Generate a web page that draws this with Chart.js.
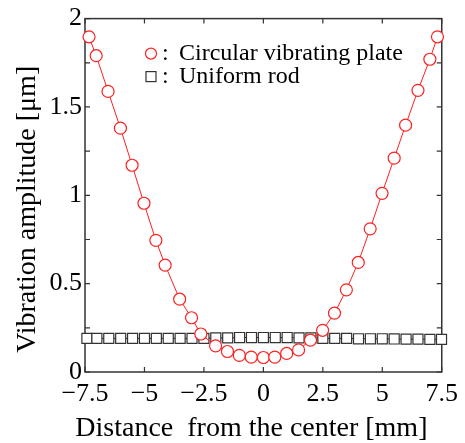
<!DOCTYPE html>
<html>
<head>
<meta charset="utf-8">
<script src="https://cdn.jsdelivr.net/npm/chart.js@4"></script>
<style>
  html, body { margin: 0; padding: 0; background: #fff; }
  #wrap { width: 465px; height: 443px; }
</style>
</head>
<body>
<div id="wrap"><canvas id="c" width="465" height="443"></canvas></div>
<script>
// ---- data ----
const plateX = [-7.33,-7.03,-6.53,-6.01,-5.52,-5.02,-4.52,-4.13,-3.52,-3.02,-2.63,-2.01,-1.51,-1.01,-0.51,0,0.48,0.98,1.48,1.98,2.49,2.99,3.49,3.99,4.49,4.99,5.5,5.98,6.5,7.0,7.32];
const plateY = [1.897,1.79,1.588,1.38,1.17,0.955,0.745,0.605,0.412,0.307,0.215,0.148,0.116,0.094,0.084,0.082,0.084,0.105,0.125,0.18,0.236,0.333,0.465,0.62,0.81,1.011,1.21,1.397,1.594,1.77,1.897];
const rodX = [-7.42,-7.0,-6.5,-6.0,-5.5,-5.0,-4.5,-4.0,-3.5,-3.0,-2.5,-2.0,-1.5,-1.0,-0.5,0,0.5,1.0,1.5,2.0,2.5,3.0,3.5,4.0,4.5,5.0,5.5,6.0,6.5,7.0,7.49];
const rodY = [0.19,0.19,0.19,0.19,0.19,0.19,0.19,0.19,0.19,0.19,0.19,0.193,0.193,0.195,0.195,0.195,0.195,0.195,0.193,0.193,0.19,0.19,0.19,0.188,0.188,0.188,0.187,0.186,0.186,0.185,0.185];
const xTicks = [-7.5,-5,-2.5,0,2.5,5,7.5];
const yTicks = [0,0.5,1,1.5,2];
const yMinorTicks = [0.25,0.75,1.25,1.75];
const legendLabels = ['Circular vibrating plate','Uniform rod'];
const xTitle = 'Distance  from the center [mm]';
const yTitle = 'Vibration amplitude [\u03bcm]';

const SERIF = "'Liberation Serif', 'Times New Roman', Times, serif";

const toPts = (xs, ys) => xs.map((x, i) => ({x, y: ys[i]}));

const framePlugin = {
  id: 'frame',
  beforeDatasetsDraw(chart) {
    const {ctx, chartArea: a, scales: {x, y}} = chart;
    ctx.save();
    ctx.strokeStyle = '#333';
    ctx.lineWidth = 1.5;
    ctx.strokeRect(a.left, a.top, a.right - a.left, a.bottom - a.top);
    ctx.lineWidth = 1.2;
    ctx.beginPath();
    const L = 5;
    xTicks.forEach(v => {
      const px = x.getPixelForValue(v);
      ctx.moveTo(px, a.bottom); ctx.lineTo(px, a.bottom - L);
      ctx.moveTo(px, a.top); ctx.lineTo(px, a.top + L);
    });
    yTicks.concat(yMinorTicks).forEach(v => {
      const py = y.getPixelForValue(v);
      ctx.moveTo(a.left, py); ctx.lineTo(a.left + L, py);
      ctx.moveTo(a.right, py); ctx.lineTo(a.right - L, py);
    });
    ctx.stroke();
    ctx.restore();
  },
  afterDatasetsDraw(chart) {
    const {ctx, chartArea: a} = chart;
    ctx.save();
    const mx = a.left + 66, r1 = a.top + 35, r2 = a.top + 58;
    ctx.strokeStyle = '#ff2020'; ctx.fillStyle = '#fff'; ctx.lineWidth = 1.2;
    ctx.beginPath(); ctx.arc(mx, r1, 5.5, 0, Math.PI * 2); ctx.fill(); ctx.stroke();
    ctx.strokeStyle = '#333';
    ctx.fillRect(mx - 5, r2 - 5, 10, 10); ctx.strokeRect(mx - 5, r2 - 5, 10, 10);
    ctx.fillStyle = '#000';
    ctx.font = '24px ' + SERIF;
    ctx.textBaseline = 'middle';
    ctx.textAlign = 'left';
    [r1, r2].forEach((ry, i) => {
      ctx.fillText(':', mx + 11, ry);
      ctx.fillText(legendLabels[i], mx + 28, ry);
    });
    // x axis title (drawn without width compression)
    ctx.font = '28px ' + SERIF;
    ctx.textAlign = 'center';
    ctx.fillText(xTitle, a.left + (a.right - a.left) / 2 - 12, 429);
    ctx.restore();
  }
};

new Chart(document.getElementById('c'), {
  type: 'scatter',
  data: {
    datasets: [
      {
        label: legendLabels[0],
        data: toPts(plateX, plateY),
        showLine: true,
        borderColor: '#ff2020',
        borderWidth: 1,
        pointStyle: 'circle',
        pointRadius: 6,
        pointBorderWidth: 1.2,
        pointBorderColor: '#ff2020',
        pointBackgroundColor: '#fff',
        clip: false
      },
      {
        label: legendLabels[1],
        data: toPts(rodX, rodY),
        showLine: true,
        borderColor: '#222',
        borderWidth: 1,
        pointStyle: 'rect',
        pointRadius: 7.1,
        pointBorderWidth: 1.2,
        pointBorderColor: '#333',
        pointBackgroundColor: '#fff',
        clip: false
      }
    ]
  },
  options: {
    responsive: false,
    animation: false,
    layout: { padding: { top: 16, right: 21, left: 0, bottom: 0 } },
    plugins: { legend: { display: false }, tooltip: { enabled: false } },
    scales: {
      x: {
        type: 'linear', min: -7.5, max: 7.5,
        afterBuildTicks: s => { s.ticks = xTicks.map(v => ({value: v})); },
        afterFit: s => { s.height = 71; },
        grid: { display: false, drawTicks: false },
        border: { display: false },
        ticks: {
          padding: 7,
          maxRotation: 0, autoSkip: false,
          color: '#000',
          font: { family: SERIF, size: 26 },
          callback: v => String(v).replace('-', '\u2212')
        },
        title: { display: false }
      },
      y: {
        type: 'linear', min: 0, max: 2,
        afterBuildTicks: s => { s.ticks = yTicks.map(v => ({value: v})); },
        afterFit: s => { s.width = 85; },
        grid: { display: false, drawTicks: false },
        border: { display: false },
        ticks: {
          padding: 3,
          color: '#000',
          font: { family: SERIF, size: 26 },
          callback: v => String(v)
        },
        title: {
          display: true, text: yTitle + '    ', color: '#000',
          font: { family: SERIF, size: 28 },
          padding: { top: 11, bottom: 0 }
        }
      }
    }
  },
  plugins: [framePlugin]
});
</script>
</body>
</html>
